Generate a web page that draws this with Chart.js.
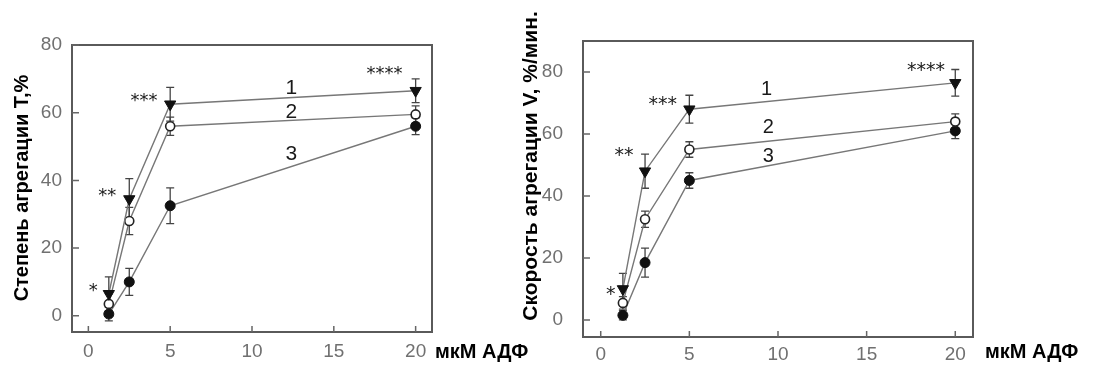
<!DOCTYPE html>
<html><head><meta charset="utf-8">
<script src="https://cdn.jsdelivr.net/npm/chart.js@4/dist/chart.umd.min.js"></script>
<style>
html,body{margin:0;padding:0;background:#fff;width:1096px;height:376px;overflow:hidden}
canvas{position:absolute;left:0;top:0}
</style></head><body>
<canvas id="c1" width="1096" height="376"></canvas>
<canvas id="c2" width="1096" height="376"></canvas>
<script>
// ---- data ----
const doses = [1.25, 2.5, 5, 20];
const xTicks = [0, 5, 10, 15, 20];
const yTicks = [0, 20, 40, 60, 80];
const curveNames = ['1', '2', '3'];
const starTexts = ['*', '**', '***', '****'];

// Degree of aggregation T, %
const degree1 = [6.5, 34.5, 62.5, 66.5];
const degree1Err = [5, 6, 5, 3.5];
const degree2 = [3.5, 28, 56, 59.5];
const degree2Err = [3, 4, 2.7, 2.5];
const degree3 = [0.5, 10, 32.5, 56];
const degree3Err = [2, 4, 5.3, 2.5];

// Rate of aggregation V, %/min
const rate1 = [10, 48, 68, 76.5];
const rate1Err = [5, 5.5, 4.5, 4.3];
const rate2 = [5.5, 32.5, 55, 64];
const rate2Err = [2, 2.6, 2.5, 2.5];
const rate3 = [1.5, 18.5, 45, 61];
const rate3Err = [1.5, 4.7, 2.5, 2.5];

// annotation anchors (data units)
const leftNameX = [12.4, 12.4, 12.4];
const leftNameY = [67.2, 60, 47.6];
const leftStarX = [0.3, 1.16, 3.4, 18.1];
const leftStarY = [8.1, 36.2, 64.2, 72.1];
const rightNameX = [9.35, 9.45, 9.45];
const rightNameY = [74.4, 62, 52.7];
const rightStarX = [0.56, 1.31, 3.5, 18.35];
const rightStarY = [9, 53.8, 70.4, 81.4];

// ---- styles ----
const seriesStyles = [
  {pointStyle:'triangle', rotation:180, pointRadius:6.5, pointBackgroundColor:'#111', pointBorderColor:'#111', pointBorderWidth:1},
  {pointStyle:'circle', rotation:0, pointRadius:4.5, pointBackgroundColor:'#fff', pointBorderColor:'#222', pointBorderWidth:1.6},
  {pointStyle:'circle', rotation:0, pointRadius:5, pointBackgroundColor:'#111', pointBorderColor:'#111', pointBorderWidth:1}
];
const tickFont = {family:'"Liberation Sans Narrow", "Liberation Sans", Arial, sans-serif', size:19};
const tickColor = '#707070';

const decor = {
  id:'decor',
  beforeDatasetsDraw(chart, args, o){
    const ctx = chart.ctx, xs = chart.scales.x, ys = chart.scales.y;
    ctx.save();
    ctx.strokeStyle = '#444'; ctx.lineWidth = 1.3;
    o.values.forEach((vals, i) => {
      vals.forEach((v, j) => {
        const e = o.errors[i][j];
        const x = xs.getPixelForValue(doses[j]);
        const y1 = ys.getPixelForValue(v + e), y2 = ys.getPixelForValue(v - e);
        ctx.beginPath();
        ctx.moveTo(x, y1); ctx.lineTo(x, y2);
        ctx.moveTo(x - 4, y1); ctx.lineTo(x + 4, y1);
        ctx.moveTo(x - 4, y2); ctx.lineTo(x + 4, y2);
        ctx.stroke();
      });
    });
    ctx.restore();
  },
  afterDraw(chart, args, o){
    const ctx = chart.ctx, xs = chart.scales.x, ys = chart.scales.y, a = chart.chartArea;
    ctx.save();
    // frame
    ctx.strokeStyle = '#5a5a5a'; ctx.lineWidth = 2;
    ctx.strokeRect(a.left, a.top, a.right - a.left, a.bottom - a.top);
    // inside ticks
    ctx.strokeStyle = '#666'; ctx.lineWidth = 1.5;
    ctx.beginPath();
    yTicks.forEach(v => { const y = ys.getPixelForValue(v); ctx.moveTo(a.left, y); ctx.lineTo(a.left + 7, y); });
    xTicks.forEach(v => { const x = xs.getPixelForValue(v); ctx.moveTo(x, a.bottom); ctx.lineTo(x, a.bottom - 6); });
    ctx.stroke();
    // curve numbers
    ctx.fillStyle = '#1a1a1a';
    ctx.textAlign = 'center'; ctx.textBaseline = 'middle';
    ctx.font = o.nameSize + 'px "Liberation Sans", Arial, sans-serif';
    curveNames.forEach((t, i) => ctx.fillText(t, xs.getPixelForValue(o.nameX[i]), ys.getPixelForValue(o.nameY[i])));
    // significance stars
    ctx.font = o.starSize + 'px "DejaVu Sans", sans-serif';
    starTexts.forEach((t, i) => ctx.fillText(t, xs.getPixelForValue(o.starX[i]), ys.getPixelForValue(o.starY[i]) + 3));
    // axis title (rotated)
    ctx.fillStyle = '#000';
    ctx.font = 'bold ' + o.titleSize + 'px "Liberation Sans", Arial, sans-serif';
    ctx.save();
    ctx.translate(o.titleX, o.titleY);
    ctx.rotate(-Math.PI / 2);
    ctx.fillText(o.title, 0, 0);
    ctx.restore();
    // unit label
    ctx.textAlign = 'left';
    ctx.font = 'bold 20px "Liberation Sans", Arial, sans-serif';
    ctx.fillText('мкМ АДФ', o.unitX, o.unitY);
    ctx.restore();
  }
};

function makeChart(id, values, errors, cfg){
  return new Chart(document.getElementById(id), {
    type:'line',
    data:{
      datasets: values.map((vals, i) => Object.assign({
        data: doses.map((d, j) => ({x:d, y:vals[j]})),
        borderColor:'#777', borderWidth:1.4, fill:false, tension:0
      }, seriesStyles[i]))
    },
    options:{
      responsive:false, animation:false, devicePixelRatio:1,
      layout:{padding:{left:0, top:cfg.top, right:cfg.right, bottom:0}},
      plugins:{legend:{display:false}, tooltip:{enabled:false},
        decor:Object.assign({values, errors}, cfg.decor)},
      scales:{
        x:{type:'linear', min:-1, max:21,
          afterBuildTicks: s => { s.ticks = xTicks.map(v => ({value:v})); },
          afterFit: s => { s.height = cfg.xh; },
          grid:{display:false, drawTicks:false}, border:{display:false},
          ticks:{padding:cfg.xpad, color:tickColor, font:tickFont, maxRotation:0}},
        y:{type:'linear', min:cfg.ymin, max:cfg.ymax,
          afterBuildTicks: s => { s.ticks = yTicks.map(v => ({value:v})); },
          afterFit: s => { s.width = cfg.yw; },
          grid:{display:false, drawTicks:false}, border:{display:false},
          ticks:{padding:cfg.ypad, color:tickColor, font:tickFont}}
      }
    },
    plugins:[decor]
  });
}

makeChart('c1', [degree1, degree2, degree3], [degree1Err, degree2Err, degree3Err], {
  top:45, right:1096-432, xh:376-332, yw:72, ymin:-4.8, ymax:80, xpad:8, ypad:10,
  decor:{nameX:leftNameX, nameY:leftNameY, nameSize:21, starX:leftStarX, starY:leftStarY, starSize:18,
    title:'Степень агрегации Т,%', titleX:22, titleY:188, titleSize:20, unitX:435, unitY:352}
});
makeChart('c2', [rate1, rate2, rate3], [rate1Err, rate2Err, rate3Err], {
  top:41, right:1096-973, xh:376-337, yw:583, ymin:-5.5, ymax:90, xpad:6, ypad:20,
  decor:{nameX:rightNameX, nameY:rightNameY, nameSize:20, starX:rightStarX, starY:rightStarY, starSize:19,
    title:'Скорость агрегации V, %/мин.', titleX:531, titleY:166, titleSize:21, unitX:985, unitY:352}
});
</script>
</body></html>
